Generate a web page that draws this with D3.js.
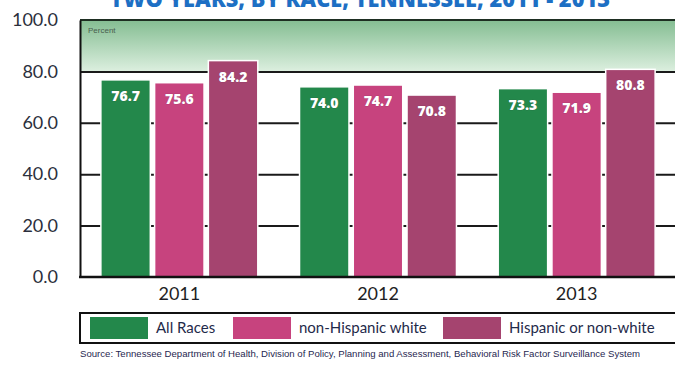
<!DOCTYPE html>
<html>
<head>
<meta charset="utf-8">
<script src="https://cdn.jsdelivr.net/npm/d3@7/dist/d3.min.js"></script>
<style>
  html, body { margin: 0; padding: 0; background: #fff; }
  svg { display: block; }
</style>
</head>
<body>
<script>
// Percent of adults, by race, Tennessee, 2011-2013
const years = ["2011", "2012", "2013"];
const seriesNames = ["All Races", "non-Hispanic white", "Hispanic or non-white"];
const allRaces = [76.7, 74.0, 73.3];
const nonHispanicWhite = [75.6, 74.7, 71.9];
const hispanicOrNonWhite = [84.2, 70.8, 80.8];
const yTicks = [0, 20, 40, 60, 80, 100];
const seriesColors = ["#23884b", "#c7437e", "#a5446f"];

const chartTitle = "TWO YEARS, BY RACE, TENNESSEE, 2011 - 2013";
const sourceNote = "Source: Tennessee Department of Health, Division of Policy, Planning and Assessment, Behavioral Risk Factor Surveillance System";

const W = 675, H = 365;
const plotLeft = 80, plotRight = 676, plotTop = 20, plotBottom = 277;

const svg = d3.select("body").append("svg").attr("width", W).attr("height", H);

const defs = svg.append("defs");
const grad = defs.append("linearGradient").attr("id", "band").attr("x1", 0).attr("y1", 0).attr("x2", 0).attr("y2", 1);
grad.append("stop").attr("offset", "0%").attr("stop-color", "#84bd92");
grad.append("stop").attr("offset", "100%").attr("stop-color", "#dcefdf");

const y = d3.scaleLinear().domain([0, 100]).range([plotBottom, plotTop]);
const x0 = d3.scaleBand().domain(years).range([plotLeft, plotRight]).paddingInner(0.21).paddingOuter(0.105);
const x1 = d3.scaleBand().domain(seriesNames).range([0, x0.bandwidth()]).paddingInner(0.08);

const rows = years.map((yr, i) => ({
  year: yr,
  values: [allRaces[i], nonHispanicWhite[i], hispanicOrNonWhite[i]].map((v, j) => ({ name: seriesNames[j], value: v, color: seriesColors[j] }))
}));

// Title (first line runs off the top edge)
svg.append("text")
  .attr("x", 360).attr("y", 7)
  .attr("text-anchor", "middle")
  .attr("font-family", "'Open Sans', 'DejaVu Sans', sans-serif")
  .attr("font-weight", 800)
  .attr("font-size", 22)
  .attr("fill", "#1d6fc4")
  .attr("textLength", 500)
  .attr("lengthAdjust", "spacingAndGlyphs")
  .text(chartTitle);

// Shaded band between 80 and 100
svg.append("rect")
  .attr("x", plotLeft).attr("y", y(100))
  .attr("width", plotRight - plotLeft).attr("height", y(80) - y(100))
  .attr("fill", "url(#band)");

svg.append("text")
  .attr("x", plotLeft + 8).attr("y", y(100) + 13)
  .attr("font-family", "'Liberation Sans', sans-serif")
  .attr("font-size", 8)
  .attr("fill", "#4a5f4f")
  .text("Percent");

// Gridlines
svg.append("g")
  .attr("transform", `translate(${plotLeft},0)`)
  .call(d3.axisLeft(y).tickValues(yTicks.filter(t => t > 0 && t < 100)).tickSize(-(plotRight - plotLeft)).tickFormat(""))
  .call(g => g.select(".domain").remove())
  .call(g => g.selectAll("line").attr("stroke", "#1a1a1a").attr("stroke-width", 2));

// Top border of the plot box
svg.append("line")
  .attr("x1", plotLeft).attr("x2", plotRight)
  .attr("y1", y(100)).attr("y2", y(100))
  .attr("stroke", "#1e2e22").attr("stroke-width", 2);

// Bars
const groups = svg.append("g").selectAll("g").data(rows).join("g")
  .attr("transform", d => `translate(${x0(d.year)},0)`);

groups.selectAll("rect").data(d => d.values).join("rect")
  .attr("x", d => x1(d.name))
  .attr("y", d => y(d.value))
  .attr("width", x1.bandwidth())
  .attr("height", d => y(0) - y(d.value))
  .attr("fill", d => d.color)
  .attr("stroke", "#fff")
  .attr("stroke-width", 1.5);

groups.selectAll("text").data(d => d.values).join("text")
  .attr("x", d => x1(d.name) + x1.bandwidth() / 2)
  .attr("y", d => y(d.value) + 21)
  .attr("text-anchor", "middle")
  .attr("font-family", "'Open Sans', 'DejaVu Sans', sans-serif")
  .attr("font-weight", 800)
  .attr("font-size", 14)
  .attr("fill", "#fff")
  .attr("stroke", "rgba(40,20,40,0.35)")
  .attr("stroke-width", 0.6)
  .attr("paint-order", "stroke")
  .text(d => d.value.toFixed(1));

// Y axis
svg.append("g")
  .attr("transform", `translate(${plotLeft},0)`)
  .call(d3.axisLeft(y).tickValues(yTicks).tickSize(0).tickPadding(22).tickFormat(d => d.toFixed(1)))
  .call(g => g.select(".domain").attr("stroke", "#111").attr("stroke-width", 2))
  .call(g => g.selectAll("text")
    .attr("font-family", "'Lato', 'DejaVu Sans', sans-serif")
    .attr("font-size", 18)
    .attr("fill", "#2b2f3c"));

// Baseline
svg.append("line")
  .attr("x1", plotLeft - 1).attr("x2", plotRight)
  .attr("y1", y(0)).attr("y2", y(0))
  .attr("stroke", "#111").attr("stroke-width", 2.5);

// X axis labels
svg.append("g")
  .attr("transform", `translate(0,${y(0)})`)
  .call(d3.axisBottom(x0).tickSize(0).tickPadding(10))
  .call(g => g.select(".domain").remove())
  .call(g => g.selectAll("text")
    .attr("font-family", "'Lato', 'DejaVu Sans', sans-serif")
    .attr("font-size", 18)
    .attr("fill", "#1e1e24"));

// Legend
const legendTop = 313, legendH = 30;
svg.append("rect")
  .attr("x", plotLeft).attr("y", legendTop)
  .attr("width", 610).attr("height", legendH)
  .attr("fill", "#fff").attr("stroke", "#111").attr("stroke-width", 2);

const legendX = [90, 233, 443];
const legend = svg.append("g").selectAll("g").data(seriesNames).join("g")
  .attr("transform", (d, i) => `translate(${legendX[i]},${legendTop + 4})`);
legend.append("rect")
  .attr("width", 58).attr("height", legendH - 8)
  .attr("fill", (d, i) => seriesColors[i]);
legend.append("text")
  .attr("x", 66).attr("y", 16)
  .attr("font-family", "'Lato', 'DejaVu Sans', sans-serif")
  .attr("font-size", 15)
  .attr("fill", "#1f2a4a")
  .text(d => d);

// Source note
svg.append("text")
  .attr("x", plotLeft).attr("y", 357)
  .attr("font-family", "'Liberation Sans Narrow', 'Liberation Sans', sans-serif")
  .attr("font-size", 9.5)
  .attr("fill", "#1f2750")
  .attr("textLength", 560)
  .attr("lengthAdjust", "spacingAndGlyphs")
  .text(sourceNote);
</script>
</body>
</html>
